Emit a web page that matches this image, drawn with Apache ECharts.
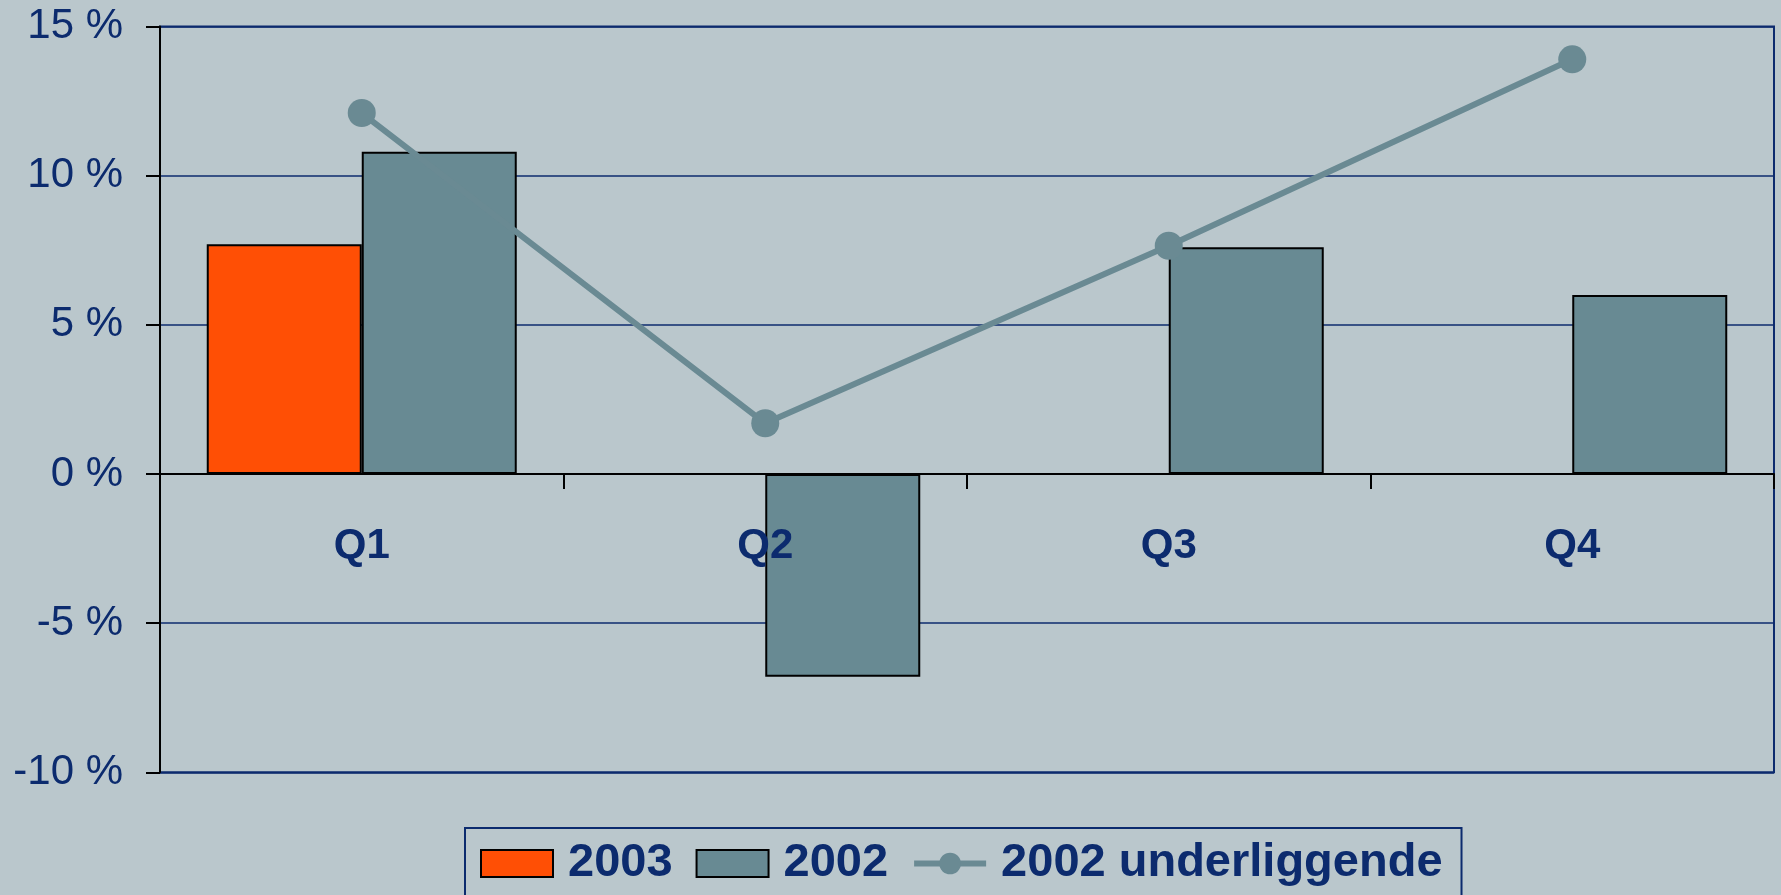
<!DOCTYPE html>
<html><head><meta charset="utf-8">
<script src="https://cdn.jsdelivr.net/npm/echarts@6/dist/echarts.min.js"></script>
<style>html,body{margin:0;padding:0;background:#bac7cc;}#c{width:1781px;height:895px;}</style>
</head><body><div id="c"></div>
<script>
const categories = ['Q1','Q2','Q3','Q4'];
const s2003 = [7.7, null, null, null];
const s2002 = [10.8, -6.8, 7.6, 6.0];
const s2002u = [12.1, 1.7, 7.65, 13.9];
const yTicks = {min: -10, max: 15, interval: 5};

const navy = '#0c2b6e';
const font = 'Liberation Sans, Arial, sans-serif';
const chart = echarts.init(document.getElementById('c'));
chart.setOption({
  backgroundColor: '#bac7cc',
  animation: false,
  grid: {left: 160, right: 7, top: 26.5, bottom: 122.7, show: true, borderColor: navy, borderWidth: 2, backgroundColor: 'transparent'},
  legend: {
    left: 465, top: 828,
    padding: [12, 19, 20, 15],
    borderColor: navy, borderWidth: 2,
    itemWidth: 72, itemHeight: 27, itemGap: 23,
    textStyle: {fontFamily: font, fontWeight: 'bold', fontSize: 47, color: navy, padding: [0,0,0,10]},
    data: [
      {name: '2003', icon: 'rect'},
      {name: '2002', icon: 'rect'},
      {name: '2002 underliggende', lineStyle: {width: 6, color: '#6a8a93'}}
    ]
  },
  xAxis: {
    type: 'category', data: categories, z: 10,
    axisLine: {onZero: true, lineStyle: {color: '#000', width: 2}},
    axisTick: {show: true, length: 15, lineStyle: {color: '#000', width: 2}},
    axisLabel: {fontFamily: font, fontWeight: 'bold', fontSize: 42, color: navy, margin: -247},
    splitLine: {show: false}
  },
  yAxis: {
    type: 'value', min: yTicks.min, max: yTicks.max, interval: yTicks.interval,
    axisLine: {show: true, lineStyle: {color: '#000', width: 2}},
    axisTick: {show: true, length: 14, lineStyle: {color: '#000', width: 2}},
    axisLabel: {fontFamily: font, fontSize: 42, color: navy, margin: 37, formatter: '{value} %'},
    splitLine: {show: true, lineStyle: {color: navy, width: 1.5}}
  },
  series: [
    {name: '2003', type: 'bar', data: s2003, barWidth: 155, barGap: '0%',
     itemStyle: {color: '#ff4f05', borderColor: '#000', borderWidth: 2}},
    {name: '2002', type: 'bar', data: s2002, barWidth: 155, barGap: '0%',
     itemStyle: {color: '#688a93', borderColor: '#000', borderWidth: 2}},
    {name: '2002 underliggende', type: 'line', data: s2002u, symbol: 'circle', symbolSize: 28,
     lineStyle: {color: '#6a8a93', width: 6}, itemStyle: {color: '#6a8a93'}, z: 5}
  ]
});
</script></body></html>
